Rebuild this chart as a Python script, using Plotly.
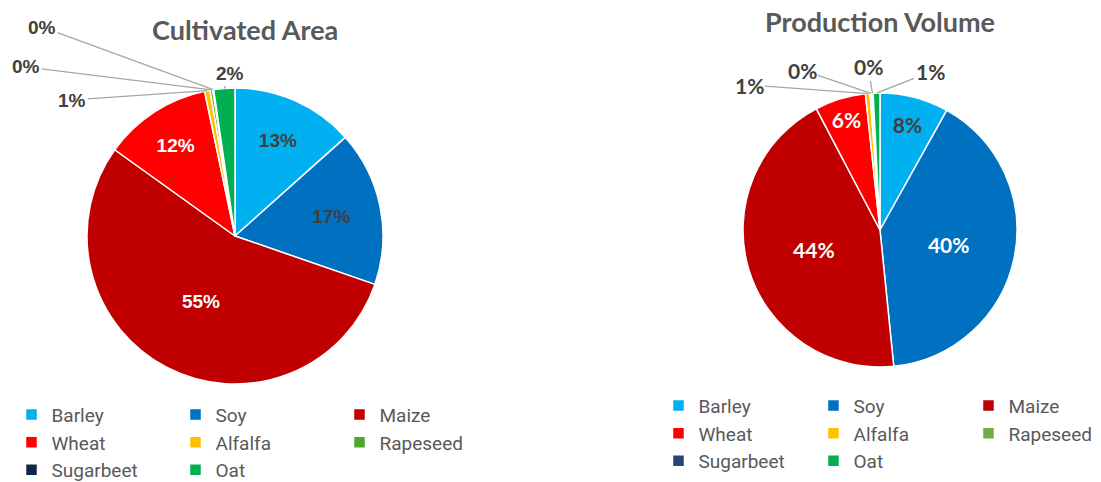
import math
import plotly.graph_objects as go

categories = ["Barley", "Soy", "Maize", "Wheat", "Alfalfa", "Rapeseed", "Sugarbeet", "Oat"]
area_values = [13.4, 16.9, 54.6, 11.8, 0.6, 0.3, 0.1, 2.3]
production_values = [8.1, 40.3, 43.9, 6.0, 0.55, 0.2, 0.15, 0.8]

colors_area = ["#00B0F0", "#0070C0", "#C00000", "#FF0000", "#FFC000", "#4EA72E", "#0E2841", "#00B050"]
colors_prod = ["#00B0F0", "#0070C0", "#C00000", "#FF0000", "#FFC000", "#70AD47", "#264478", "#00B050"]

area_inside = [True, True, True, True, False, False, False, False]
prod_inside = [True, True, True, True, False, False, False, False]
area_textcolor = ["#404040", "#404040", "#FFFFFF", "#FFFFFF", "#404040", "#404040", "#404040", "#404040"]
prod_textcolor = ["#404040", "#FFFFFF", "#FFFFFF", "#FFFFFF", "#404040", "#404040", "#404040", "#404040"]

area_callouts = {"Alfalfa": (72, 100), "Rapeseed": (26, 67), "Sugarbeet": (42, 27), "Oat": (230, 74)}
prod_callouts = {"Alfalfa": (749, 85), "Rapeseed": (802, 70), "Sugarbeet": (868, 67), "Oat": (930, 72)}

OFF = 8
W, H = 1101 - OFF, 482 - OFF
L, R, T, B = 10, 0, 0, 0
GW, GH = W - L - R, H - T - B


def px_x(p):
    return (p - OFF - L) / GW


def px_y(p):
    return 1 - (p - OFF - T) / GH


area_dom = dict(x=[px_x(87), px_x(383)], y=[px_y(384), px_y(88)])
prod_dom = dict(x=[px_x(743), px_x(1017)], y=[px_y(367), px_y(93)])

fig = go.Figure()

fig.add_trace(go.Pie(
    labels=categories, values=area_values, sort=False, direction="clockwise", rotation=0,
    marker=dict(colors=colors_area, line=dict(color="white", width=1.5)),
    texttemplate=["%{percent:.0%}" if s else "" for s in area_inside], textposition="inside",
    insidetextfont=dict(family="Liberation Sans", size=19, color=area_textcolor, weight="bold"),
    insidetextorientation="horizontal",
    domain=area_dom, legend="legend", legendgroup="area", hoverinfo="label+percent",
))

fig.add_trace(go.Pie(
    labels=categories, values=production_values, sort=False, direction="clockwise", rotation=0,
    marker=dict(colors=colors_prod, line=dict(color="white", width=1.5)),
    texttemplate=["%{percent:.0%}" if s else "" for s in prod_inside], textposition="inside",
    insidetextfont=dict(family="Lato", size=21, color=prod_textcolor, weight="bold"),
    insidetextorientation="horizontal",
    domain=prod_dom, legend="legend2", legendgroup="prod", hoverinfo="label+percent",
))


def callouts(values, inside, dom, positions, family, size):
    total = sum(values)
    x0, x1 = dom["x"]
    y0, y1 = dom["y"]
    cx = L + GW * (x0 + x1) / 2
    cy = T + GH * (1 - (y0 + y1) / 2)
    r = min(GW * (x1 - x0), GH * (y1 - y0)) / 2
    out = []
    cum = 0.0
    for cat, v, ins in zip(categories, values, inside):
        mid = (cum + v / 2) / total
        cum += v
        if ins:
            continue
        th = 2 * math.pi * mid
        rx = cx + r * math.sin(th)
        ry = cy - r * math.cos(th)
        lx, ly = positions[cat]
        lx, ly = lx - OFF, ly - OFF
        out.append(dict(
            text="<b>%d%%</b>" % round(100 * v / total),
            x=(rx - L) / GW, y=1 - (ry - T) / GH, xref="paper", yref="paper",
            ax=lx - rx, ay=ly - ry, axref="pixel", ayref="pixel",
            showarrow=True, arrowhead=0, arrowwidth=1.3, arrowcolor="#A6A6A6",
            standoff=0, startstandoff=0,
            font=dict(family=family, size=size, color="#404040"),
        ))
    return out


annotations = [
    dict(text="<b>Cultivated Area</b>", x=px_x(245), y=px_y(30), xref="paper", yref="paper",
         xanchor="center", yanchor="middle", showarrow=False,
         font=dict(family="Lato", size=27, color="#595959")),
    dict(text="<b>Production Volume</b>", x=px_x(880), y=px_y(22), xref="paper", yref="paper",
         xanchor="center", yanchor="middle", showarrow=False,
         font=dict(family="Lato", size=27, color="#595959")),
]
annotations += callouts(area_values, area_inside, area_dom, area_callouts, "Liberation Sans", 19)
annotations += callouts(production_values, prod_inside, prod_dom, prod_callouts, "Lato", 21)

legend_font = dict(family="Roboto", size=19, color="#595959")

fig.update_layout(
    width=W, height=H,
    margin=dict(l=L, r=R, t=T, b=B, autoexpand=False),
    paper_bgcolor="white", plot_bgcolor="white",
    showlegend=True,
    legend=dict(orientation="h", x=(3.5 - L) / GW, xanchor="left",
                y=1 - (395.6 - OFF) / GH, yanchor="top", traceorder="normal",
                entrywidth=119, entrywidthmode="pixels",
                font=legend_font, bgcolor="rgba(0,0,0,0)"),
    legend2=dict(orientation="h", x=1.03 - 10 / GW, xanchor="right",
                 y=1 - (386.6 - OFF) / GH, yanchor="top", traceorder="normal",
                 entrywidth=110, entrywidthmode="pixels",
                 font=legend_font, bgcolor="rgba(0,0,0,0)"),
    annotations=annotations,
)

fig.write_html("out.html")
